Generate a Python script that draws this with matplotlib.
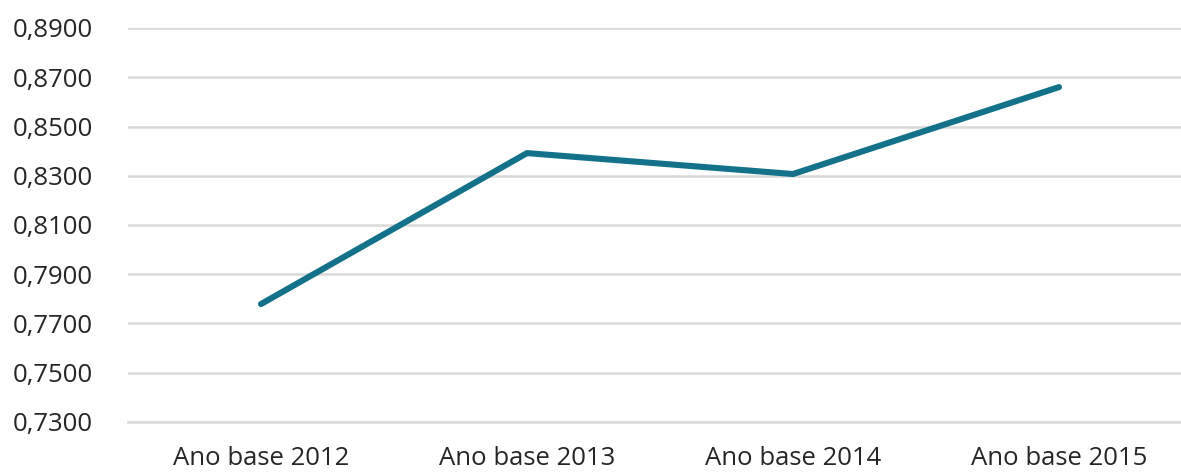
import matplotlib
matplotlib.use("Agg")
import matplotlib.pyplot as plt

categories = ["Ano base 2012", "Ano base 2013", "Ano base 2014", "Ano base 2015"]
values = [0.7779, 0.8392, 0.8307, 0.8660]
yticks = [0.73, 0.75, 0.77, 0.79, 0.81, 0.83, 0.85, 0.87, 0.89]

plt.rcParams['font.family'] = ['Open Sans', 'DejaVu Sans']

fig = plt.figure(figsize=(11.81, 4.72), dpi=100)
ax = fig.add_axes([128 / 1181, 1 - 422 / 472, 1064 / 1181, 394 / 472])

x = list(range(len(categories)))
ax.plot(x, values, color='#13718A', lw=4.4, solid_capstyle='round', solid_joinstyle='round', zorder=3)

ax.set_xlim(-0.5, 3.5)
ax.set_ylim(0.73, 0.89)
ax.set_yticks(yticks)
ax.set_yticklabels([f"{v:.4f}".replace('.', ',') for v in yticks])
ax.set_xticks(x)
ax.set_xticklabels(categories)
ax.tick_params(axis='y', length=0, pad=25, labelsize=18.5, labelcolor='#262626')
ax.tick_params(axis='x', length=0, pad=17.5, labelsize=18.5, labelcolor='#262626')

ax.grid(axis='y', color='#d9d9d9', lw=1.8, zorder=0)
for s in ax.spines.values():
    s.set_visible(False)
ax.spines['bottom'].set_visible(True)
ax.spines['bottom'].set_color('#d9d9d9')
ax.spines['bottom'].set_linewidth(1.8)

fig.savefig("out.png", dpi=100)
